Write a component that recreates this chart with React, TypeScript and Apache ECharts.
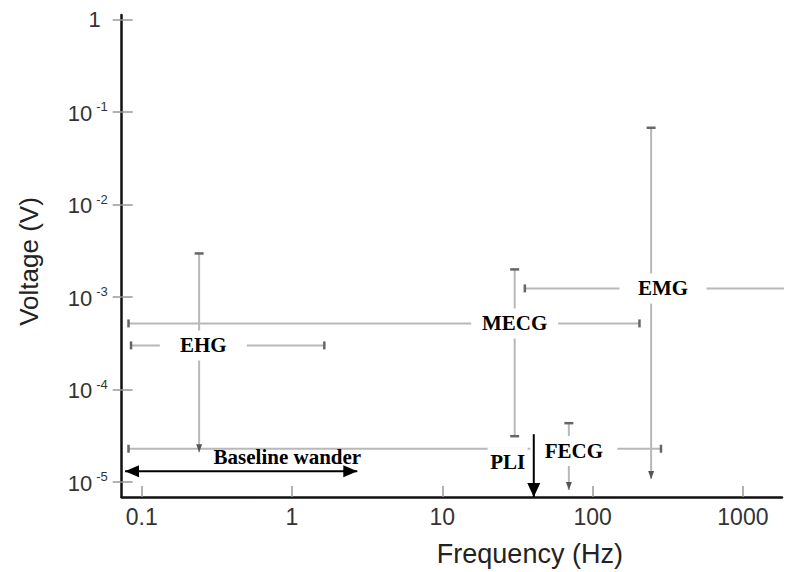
import React, { useEffect, useRef } from "react";
import * as echarts from "echarts";

// Axis ticks
const xTickValues = [0.1, 1, 10, 100, 1000];
const xTickLabels = ["0.1", "1", "10", "100", "1000"];
const yTickValues = [1e-5, 1e-4, 1e-3, 1e-2, 1e-1, 1];
const xMin = 0.0736;
const xMax = 1820;
const yMin = 6.89e-6;
const yMax = 1.12;

// Signal ranges (frequency in Hz, voltage in V)
const rangeNames = ["EHG", "MECG", "EMG", "FECG"];
// vertical (voltage) extents
const vFreq = [0.241, 30.3, 245, 69.5];
const vTop = [2.96e-3, 1.99e-3, 6.76e-2, 4.33e-5];
const vBottom = [2.1e-5, 3.13e-5, 1.08e-5, 8.2e-6];
const vBottomEnd = ["arrow", "cap", "arrow", "arrow"];
// horizontal (frequency) extents
const hVolt = [3.0e-4, 5.19e-4, 1.24e-3, 2.29e-5];
const hFrom = [0.0849, 0.0817, 35.4, 0.0817];
const hTo = [1.64, 205, 2000, 285];
const hRightEnd = ["cap", "cap", "none", "cap"];
// label anchors
const labelFreq = [0.257, 30.3, 294, 75];
const labelVolt = [3.0e-4, 5.19e-4, 1.24e-3, 2.16e-5];

// Baseline wander (double arrow)
const bwFrom = 0.0774;
const bwTo = 2.72;
const bwVolt = 1.31e-5;
const bwLabel = "Baseline wander";
const bwLabelFreq = 0.931;
const bwLabelVolt = 1.86e-5;

// Power line interference
const pliFreq = 40.6;
const pliTop = 3.29e-5;
const pliBottom = 6.89e-6;
const pliLabel = "PLI";
const pliLabelFreq = 27.2;
const pliLabelVolt = 1.64e-5;

const GRAY = "#b8b8b8";
const CAP = "#666";
const ARROW = "#555";
const SERIF = "'Liberation Serif', 'Times New Roman', serif";
const SANS = "'Liberation Sans', Arial, sans-serif";

const capV = (v: number[]) => ({ value: v, symbol: "rect", symbolSize: [9, 2.5], itemStyle: { color: CAP } });
const capH = (v: number[]) => ({ value: v, symbol: "rect", symbolSize: [2.5, 8], itemStyle: { color: CAP } });
const noneSym = (v: number[]) => ({ value: v, symbol: "none" });
const arrowDown = (v: number[], w: number, h: number, c: string) => ({
  value: v,
  symbol: "triangle",
  symbolSize: [w, h],
  symbolRotate: 180,
  symbolOffset: [0, -h / 2],
  itemStyle: { color: c },
});

const labelBase = {
  show: true,
  position: "inside",
  formatter: (p: any) => p.name,
  fontFamily: SERIF,
  fontWeight: "bold",
  fontSize: 21,
  color: "#000",
  textBorderWidth: 0,
  opacity: 1,
};

export default function App() {
  const ref = useRef<HTMLDivElement>(null);
  useEffect(() => {
    if (!ref.current) return;
    const chart = echarts.init(ref.current, null, { renderer: "svg" });

    const series: any[] = [];
    rangeNames.forEach((name, i) => {
      series.push({
        type: "line",
        name: name + " voltage",
        z: 2,
        clip: false,
        data: [
          capV([vFreq[i], vTop[i]]),
          vBottomEnd[i] === "arrow"
            ? arrowDown([vFreq[i], vBottom[i]], 6, 8, ARROW)
            : capV([vFreq[i], vBottom[i]]),
        ],
        lineStyle: { color: GRAY, width: 2 },
      });
      series.push({
        type: "line",
        name: name + " frequency",
        z: 2,
        clip: false,
        data: [
          capH([hFrom[i], hVolt[i]]),
          hRightEnd[i] === "cap" ? capH([hTo[i], hVolt[i]]) : noneSym([hTo[i], hVolt[i]]),
        ],
        lineStyle: { color: GRAY, width: 2 },
      });
    });

    // labels of ranges
    series.push({
      type: "scatter",
      z: 5,
      symbolSize: 1,
      itemStyle: { color: "#fff", opacity: 0 },
      data: rangeNames.map((n, i) => ({ value: [labelFreq[i], labelVolt[i]], name: n })),
      label: {
        ...labelBase,
        backgroundColor: "#fff",
        width: 87,
        height: 30,
        lineHeight: 30,
        align: "center",
        verticalAlign: "middle",
      },
    });
    series.push({
      type: "scatter",
      z: 5,
      symbolSize: 1,
      itemStyle: { color: "#fff", opacity: 0 },
      data: [{ value: [pliLabelFreq, pliLabelVolt], name: pliLabel }],
      label: {
        ...labelBase,
        backgroundColor: "#fff",
        width: 40,
        height: 30,
        lineHeight: 30,
        align: "center",
        verticalAlign: "middle",
      },
    });
    series.push({
      type: "scatter",
      z: 5,
      symbolSize: 1,
      itemStyle: { color: "#fff", opacity: 0 },
      data: [{ value: [bwLabelFreq, bwLabelVolt], name: bwLabel }],
      label: { ...labelBase },
    });

    // Baseline wander double arrow
    series.push({
      type: "line",
      z: 6,
      clip: false,
      data: [
        { value: [bwFrom, bwVolt], symbol: "triangle", symbolSize: [12, 14], symbolRotate: 90, symbolOffset: [7, 0], itemStyle: { color: "#000" } },
        { value: [bwTo, bwVolt], symbol: "triangle", symbolSize: [12, 14], symbolRotate: -90, symbolOffset: [-7, 0], itemStyle: { color: "#000" } },
      ],
      lineStyle: { color: "#000", width: 2 },
    });

    // PLI arrow
    series.push({
      type: "line",
      z: 6,
      clip: false,
      data: [
        noneSym([pliFreq, pliTop]),
        arrowDown([pliFreq, pliBottom], 13, 14, "#000"),
      ],
      lineStyle: { color: "#000", width: 2 },
    });

    const yFormatter = (value: number) => {
      const e = Math.round(Math.log10(value));
      if (e === 0) return "{one|1}";
      return "{b|10}{s|" + (e < 0 ? "-" : "") + Math.abs(e) + "}";
    };
    const yRich = {
      b: { fontSize: 22, fontFamily: SANS, color: "#333", lineHeight: 24, verticalAlign: "bottom" },
      s: { fontSize: 13, fontFamily: SANS, color: "#333", lineHeight: 14, verticalAlign: "top", padding: [0, 0, 0, 4] },
      one: { fontSize: 22, fontFamily: SANS, color: "#333", lineHeight: 24, padding: [0, 7, 0, 0] },
    };

    chart.setOption({
      animation: false,
      backgroundColor: "#fff",
      grid: { left: 121.7, right: 7, top: 15, bottom: 74 },
      xAxis: {
        type: "log",
        logBase: 10,
        min: xMin,
        max: xMax,
        name: "Frequency (Hz)",
        nameLocation: "middle",
        nameGap: 43,
        nameTextStyle: { fontFamily: SANS, fontSize: 27, color: "#222", padding: [0, 0, 0, 156] },
        axisLine: { show: true, lineStyle: { color: "#111", width: 2.5 } },
        axisTick: { show: true, inside: true, length: 11, customValues: xTickValues, lineStyle: { color: "#999", width: 1.5 } },
        axisLabel: {
          customValues: xTickValues,
          margin: 8,
          fontFamily: SANS,
          fontSize: 23,
          color: "#333",
          formatter: (v: number) => {
            const idx = xTickValues.findIndex((t) => Math.abs(Math.log10(t) - Math.log10(v)) < 1e-6);
            return idx >= 0 ? xTickLabels[idx] : "";
          },
        },
        splitLine: { show: false },
        minorTick: { show: false },
        minorSplitLine: { show: false },
      },
      yAxis: [
        {
          type: "log",
          logBase: 10,
          min: yMin,
          max: yMax,
          name: "Voltage (V)",
          nameLocation: "middle",
          nameGap: 80,
          nameTextStyle: { fontFamily: SANS, fontSize: 26, color: "#222", padding: [0, 11, 0, 0] },
          axisLine: { show: true, lineStyle: { color: "#111", width: 2.5 } },
          axisTick: { show: true, inside: false, length: 9, customValues: yTickValues, lineStyle: { color: "#999", width: 1.5 } },
          axisLabel: { customValues: yTickValues, margin: 14, formatter: yFormatter, rich: yRich },
          splitLine: { show: false },
        },
        {
          type: "log",
          logBase: 10,
          min: yMin,
          max: yMax,
          position: "left",
          axisLine: { show: false },
          axisTick: { show: true, inside: true, length: 11, customValues: yTickValues, lineStyle: { color: "#999", width: 1.5 } },
          axisLabel: { show: false },
          splitLine: { show: false },
        },
      ],
      series,
    });
    return () => chart.dispose();
  }, []);
  return (
    <div
      ref={ref}
      style={{ position: "fixed", left: 0, top: 0, width: 789, height: 572, background: "#fff" }}
    />
  );
}
